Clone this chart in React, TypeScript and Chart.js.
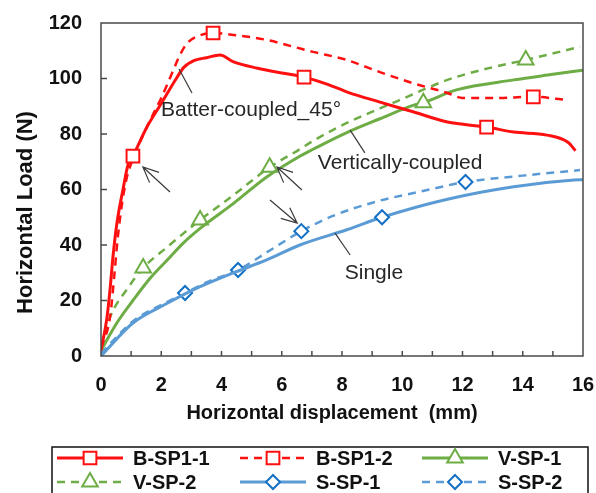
import React, { useEffect, useRef } from 'react';
import { Chart, registerables } from 'chart.js';

Chart.register(...registerables);

const FONT = '"Liberation Sans", Arial, Helvetica, sans-serif';

// ---- data (displacement mm, load N) ----
const bsp11X = [0, 0.2, 0.3, 0.4, 0.53, 0.73, 0.9, 1.06, 1.5, 2, 2.5, 2.75, 3.1, 3.5, 3.95, 4.4, 5.2, 6, 6.74, 7.5, 8.2, 9.26, 10.36, 11.5, 12.8, 13.7, 14.8, 15.5, 15.75];
const bsp11Y = [2, 14, 24, 36, 48, 60, 69, 72, 82, 91, 100, 104, 106.5, 107.5, 108.5, 106, 103.7, 102, 100.5, 98, 95, 91.5, 88, 84.3, 82.5, 80.7, 79.6, 77, 74];
const bsp11Markers = [1.06, 6.74, 12.8];

const bsp12X = [0, 0.3, 0.45, 0.55, 0.7, 0.85, 1.06, 1.5, 2, 2.4, 2.6, 2.85, 3.3, 3.72, 4.4, 5.5, 6.4, 7.04, 8.15, 9.26, 10.36, 11.5, 12, 13.1, 14.35, 15.5];
const bsp12Y = [3, 14, 30, 42, 55, 64, 71, 82, 93, 103, 108, 112.6, 115.6, 116.4, 115.7, 113.9, 111.4, 109.6, 106.7, 102.3, 98.3, 94.8, 93, 93, 93.4, 92.2];
const bsp12Markers = [3.72, 14.35];

const vsp1X = [0, 0.53, 1.06, 1.63, 2.2, 2.73, 3.29, 4.4, 5.5, 6.6, 7.04, 8.16, 9.26, 10.36, 10.7, 11.8, 13.7, 15, 16];
const vsp1Y = [2, 12, 20, 28, 34.6, 40.7, 46, 55, 64.5, 72, 74.5, 80.5, 85.5, 90.3, 91.3, 95.9, 99.5, 101.5, 103];
const vsp1Markers = [10.7];

const vsp2X = [0, 0.3, 0.86, 1.4, 2.2, 3.29, 4.4, 5.6, 6.6, 7.04, 8.16, 9.26, 9.93, 11.5, 12.6, 14.1, 15.9];
const vsp2Y = [3, 14, 24, 31.7, 39.3, 49, 58, 68, 74.5, 77.5, 84, 89.2, 92.3, 99.5, 103, 106.7, 111.4];
const vsp2Markers = [1.4, 3.29, 5.6, 14.1];

const ssp1X = [0, 1.06, 2.2, 2.79, 3.29, 4.4, 5.5, 6.6, 8.16, 9.33, 11.5, 13.7, 15.7, 16];
const ssp1Y = [0, 11.9, 19, 22.4, 25, 30, 34.6, 40, 45.5, 50, 56.5, 61, 63.4, 63.5];
const ssp1Markers = [9.33];

const ssp2X = [0, 1.06, 2.2, 2.79, 3.6, 4.55, 5.6, 6.65, 7.7, 9.26, 10.5, 12.1, 14, 15.9];
const ssp2Y = [1, 12.5, 19.5, 22.7, 27, 31, 38, 45, 50.5, 56, 59, 62.7, 65, 67];
const ssp2Markers = [2.79, 4.55, 6.65, 12.1];

const seriesNames = ['B-SP1-1', 'B-SP1-2', 'V-SP-1', 'V-SP-2', 'S-SP-1', 'S-SP-2'];

// axis
const X_MIN = 0, X_MAX = 16, X_STEP = 1, X_LABEL_STEP = 2;
const Y_MIN = 0, Y_MAX = 120, Y_STEP = 20;
const xTitle = 'Horizontal displacement  (mm)';
const yTitle = 'Horizontal Load (N)';

// annotations (data units)
const notes = [
  { text: 'Batter-coupled_45°', at: [4.98, 88.6], lead: [[2.59, 103.4], [3.02, 94.8]] },
  { text: 'Vertically-coupled', at: [9.93, 69.5], lead: [[8.27, 81.4], [8.76, 73.2]] },
  { text: 'Single', at: [9.06, 29.9], lead: [[7.77, 44.3], [8.27, 36.4]] },
];
const arrows = [
  { from: [2.29, 59.1], to: [1.39, 68.1] },
  { from: [6.67, 59.8], to: [5.84, 68.1] },
  { from: [5.61, 56.2], to: [6.51, 47.9] },
];

const RED = '#FF1010';
const GREEN = '#6EAD45';
const BLUE = '#5B9BD5';
const BLUE_MK = '#1470C4';

const pts = (xs: number[], ys: number[]) => xs.map((x, i) => ({ x, y: ys[i] }));

function makeDataset(label: string, xs: number[], ys: number[], markers: number[], color: string, mkColor: string, dashed: boolean, style: string, r: number) {
  const set = new Set(markers);
  return {
    label,
    data: pts(xs, ys),
    borderColor: color,
    borderWidth: dashed ? 2.5 : 3,
    borderDash: dashed ? [8, 6] : [],
    cubicInterpolationMode: 'monotone',
    pointStyle: style,
    pointRadius: (c: any) => (set.has(c.raw?.x) ? r : 0),
    pointBorderColor: mkColor,
    pointBackgroundColor: '#ffffff',
    pointBorderWidth: 2,
    fill: false,
    _style: style,
    _r: r,
    _mk: mkColor,
  };
}

function drawMarker(ctx: CanvasRenderingContext2D, style: string, x: number, y: number, r: number, color: string) {
  ctx.save();
  ctx.setLineDash([]);
  ctx.lineWidth = 2;
  ctx.strokeStyle = color;
  ctx.fillStyle = '#fff';
  ctx.beginPath();
  if (style === 'rect') {
    const s = Math.SQRT1_2 * r;
    ctx.rect(x - s, y - s, 2 * s, 2 * s);
  } else if (style === 'triangle') {
    ctx.moveTo(x, y - r);
    ctx.lineTo(x + r * 0.866, y + r * 0.5);
    ctx.lineTo(x - r * 0.866, y + r * 0.5);
    ctx.closePath();
  } else {
    ctx.moveTo(x, y - r);
    ctx.lineTo(x + r, y);
    ctx.lineTo(x, y + r);
    ctx.lineTo(x - r, y);
    ctx.closePath();
  }
  ctx.fill();
  ctx.stroke();
  ctx.restore();
}

const decor = {
  id: 'decor',
  afterDatasetsDraw(chart: any) {
    const { ctx, chartArea: a, scales } = chart;
    const xs = scales.x, ys = scales.y;
    const px = (v: number) => xs.getPixelForValue(v);
    const py = (v: number) => ys.getPixelForValue(v);
    ctx.save();
    // frame
    ctx.strokeStyle = '#4a4a4a';
    ctx.lineWidth = 1.5;
    ctx.strokeRect(a.left, a.top, a.right - a.left, a.bottom - a.top);
    // inside ticks
    ctx.beginPath();
    for (let v = X_MIN + X_STEP; v < X_MAX; v += X_STEP) {
      ctx.moveTo(px(v), a.bottom);
      ctx.lineTo(px(v), a.bottom - 5);
    }
    for (let v = Y_MIN + Y_STEP; v < Y_MAX; v += Y_STEP) {
      ctx.moveTo(a.left, py(v));
      ctx.lineTo(a.left + 6, py(v));
    }
    ctx.stroke();

    // annotations
    ctx.strokeStyle = '#3a3a3a';
    ctx.lineWidth = 1.2;
    ctx.fillStyle = '#262626';
    ctx.font = `21px ${FONT}`;
    ctx.textAlign = 'center';
    ctx.textBaseline = 'middle';
    for (const n of notes) {
      ctx.beginPath();
      ctx.moveTo(px(n.lead[0][0]), py(n.lead[0][1]));
      ctx.lineTo(px(n.lead[1][0]), py(n.lead[1][1]));
      ctx.stroke();
      ctx.fillText(n.text, px(n.at[0]), py(n.at[1]));
    }
    for (const ar of arrows) {
      const x1 = px(ar.from[0]), y1 = py(ar.from[1]);
      const x2 = px(ar.to[0]), y2 = py(ar.to[1]);
      const ang = Math.atan2(y1 - y2, x1 - x2);
      const L = 17, spread = 0.42;
      ctx.beginPath();
      ctx.moveTo(x1, y1);
      ctx.lineTo(x2, y2);
      ctx.moveTo(x2 + L * Math.cos(ang + spread), y2 + L * Math.sin(ang + spread));
      ctx.lineTo(x2, y2);
      ctx.lineTo(x2 + L * Math.cos(ang - spread), y2 + L * Math.sin(ang - spread));
      ctx.stroke();
    }

    // axis titles
    ctx.fillStyle = '#111';
    ctx.font = `bold 20px ${FONT}`;
    ctx.fillText(xTitle, (a.left + a.right) / 2 - 10, a.bottom + 57);
    ctx.save();
    ctx.translate(26, (a.top + a.bottom) / 2 + 23);
    ctx.rotate(-Math.PI / 2);
    ctx.font = `bold 22px ${FONT}`;
    ctx.fillText(yTitle, 0, 0);
    ctx.restore();

    // legend
    const W = chart.width;
    const boxL = 52, boxR = W - 8, boxT = a.bottom + 91;
    ctx.strokeStyle = '#111';
    ctx.lineWidth = 1.5;
    ctx.strokeRect(boxL, boxT, boxR - boxL, 60);
    const colX = [90, 273, 455];
    const rowY = [boxT + 11, boxT + 35];
    ctx.font = `bold 20px ${FONT}`;
    ctx.textAlign = 'left';
    chart.data.datasets.forEach((ds: any, i: number) => {
      const cx = colX[i % 3], cy = rowY[Math.floor(i / 3)];
      ctx.save();
      ctx.strokeStyle = ds.borderColor;
      ctx.lineWidth = ds.borderWidth;
      ctx.setLineDash(ds.borderDash);
      ctx.beginPath();
      ctx.moveTo(cx - 33, cy);
      ctx.lineTo(cx + 33, cy);
      ctx.stroke();
      ctx.restore();
      drawMarker(ctx, ds._style, cx, cy, ds._r, ds._mk);
      ctx.fillStyle = '#111';
      ctx.fillText(ds.label, cx + 43, cy + 1);
    });
    ctx.restore();
  },
};

const zeroPad = (s: any) => {
  s.paddingLeft = 0;
  s.paddingRight = 0;
  s.paddingTop = 0;
  s.paddingBottom = 0;
};

export default function App() {
  const ref = useRef<HTMLCanvasElement>(null);
  useEffect(() => {
    document.body.style.margin = '0';
    const canvas = ref.current!;
    const tickFont = { family: FONT, size: 20, weight: 'bold' as const };
    const chart = new Chart(canvas, {
      type: 'line',
      data: {
        datasets: [
          makeDataset(seriesNames[0], bsp11X, bsp11Y, bsp11Markers, RED, RED, false, 'rect', 9),
          makeDataset(seriesNames[1], bsp12X, bsp12Y, bsp12Markers, RED, RED, true, 'rect', 9),
          makeDataset(seriesNames[2], vsp1X, vsp1Y, vsp1Markers, GREEN, GREEN, false, 'triangle', 9),
          makeDataset(seriesNames[3], vsp2X, vsp2Y, vsp2Markers, GREEN, GREEN, true, 'triangle', 9),
          makeDataset(seriesNames[4], ssp1X, ssp1Y, ssp1Markers, BLUE, BLUE_MK, false, 'rectRot', 7),
          makeDataset(seriesNames[5], ssp2X, ssp2Y, ssp2Markers, BLUE, BLUE_MK, true, 'rectRot', 7),
        ] as any,
      },
      options: {
        responsive: false,
        animation: false,
        layout: { padding: { top: 23, right: 13, left: 0, bottom: 0 } },
        plugins: { legend: { display: false }, tooltip: { enabled: false } },
        scales: {
          x: {
            type: 'linear',
            min: X_MIN,
            max: X_MAX,
            grid: { display: false, drawTicks: false },
            border: { display: false },
            ticks: {
              stepSize: X_STEP,
              autoSkip: false,
              maxRotation: 0,
              padding: 17,
              color: '#111',
              font: tickFont,
              callback: (v: any) => (Number(v) % X_LABEL_STEP === 0 ? String(v) : ''),
            },
            afterFit: (s: any) => { s.height = 137; zeroPad(s); },
          },
          y: {
            type: 'linear',
            min: Y_MIN,
            max: Y_MAX,
            grid: { display: false, drawTicks: false },
            border: { display: false },
            ticks: { stepSize: Y_STEP, padding: 19, color: '#111', font: tickFont },
            afterFit: (s: any) => { s.width = 101; zeroPad(s); },
          },
        },
      } as any,
      plugins: [decor],
    });
    return () => chart.destroy();
  }, []);
  return <canvas ref={ref} width={596} height={493} style={{ display: 'block' }} />;
}
